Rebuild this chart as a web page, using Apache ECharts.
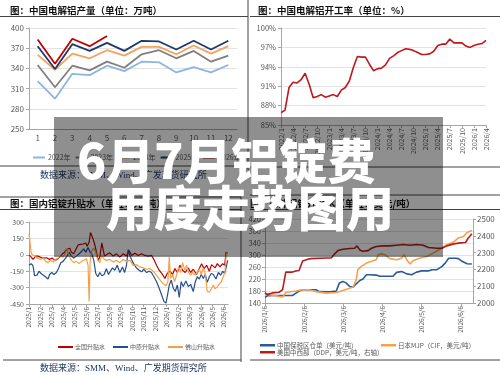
<!DOCTYPE html>
<html>
<head>
<meta charset="utf-8">
<script src="https://cdn.jsdelivr.net/npm/echarts@6/dist/echarts.min.js"></script>
<style>
  html, body { margin: 0; padding: 0; background: #fff; }
  #main { width: 500px; height: 375px; }
</style>
</head>
<body>
<div id="main"></div>
<script>
// ---- chart 1: 中国电解铝产量 (万吨) ----
var monthNums = ['1', '2', '3', '4', '5', '6', '7', '8', '9', '10', '11', '12'];
var out2022 = [321, 295, 332, 330, 344, 336, 350, 349, 334, 342, 334, 345];
var out2023 = [345, 312, 344, 337, 350, 341, 361, 367, 355, 366, 350, 359];
var out2024 = [360, 338, 362, 355, 367, 359, 372, 372, 361, 374, 362, 373];
var out2025 = [373, 339, 376, 366, 378, 366, 381, 380, 368, 381, 368, 381];
var out2026 = [383, 347, 384, 373, 388];

// ---- chart 2: 中国电解铝开工率 (%) ----
var rateMonths = [
  '2022/1', '2022/2', '2022/3', '2022/4', '2022/5', '2022/6', '2022/7', '2022/8', '2022/9', '2022/10', '2022/11', '2022/12',
  '2023/1', '2023/2', '2023/3', '2023/4', '2023/5', '2023/6', '2023/7', '2023/8', '2023/9', '2023/10', '2023/11', '2023/12',
  '2024/1', '2024/2', '2024/3', '2024/4', '2024/5', '2024/6', '2024/7', '2024/8', '2024/9', '2024/10', '2024/11', '2024/12',
  '2025/1', '2025/2', '2025/3', '2025/4', '2025/5', '2025/6', '2025/7', '2025/8', '2025/9', '2025/10', '2025/11', '2025/12',
  '2026/1', '2026/2', '2026/3', '2026/4'
];
var rateValues = [
  86.9, 87.3, 90.8, 91.6, 91.5, 92.0, 93.0, 91.3, 89.2, 89.4, 89.7, 89.3,
  89.5, 89.7, 89.4, 90.4, 90.8, 91.8, 93.9, 95.6, 95.5, 95.5, 94.4, 93.4,
  93.7, 93.8, 94.3, 95.3, 95.7, 96.2, 96.5, 96.8, 96.7, 96.5, 96.2, 95.9,
  95.9, 96.0, 96.4, 97.3, 97.5, 97.5, 98.3, 97.7, 97.7, 97.7, 97.2, 97.0,
  97.3, 97.5, 97.6, 98.1
];

// ---- chart 3: 国内铝锭升贴水 (元/吨), x = months since 2025/1 ----
var premLabels = ['2025/1', '2025/2', '2025/3', '2025/4', '2025/5', '2025/6', '2025/7', '2025/8', '2025/9',
  '2025/10', '2025/11', '2025/12', '2026/1', '2026/2', '2026/3', '2026/4', '2026/5', '2026/6'];
var premNational = [
  [0, 0], [0.2, -21], [0.35, -42], [0.58, -12], [0.79, -12], [0.99, -21], [1.22, -30], [1.51, -27], [1.8, -42],
  [2.04, -30], [2.24, -51], [2.45, -42], [2.68, -21], [2.91, 9], [3.11, 24], [3.26, 48], [3.41, 30], [3.55, 60],
  [3.7, 24], [3.9, 9], [4.08, 48], [4.28, 90], [4.48, 96], [4.72, 99], [4.95, 108], [5.07, 78], [5.24, 114],
  [5.36, 204], [5.47, 189], [5.59, 144], [5.74, 90], [5.88, 24], [6.03, -51], [6.17, -21], [6.35, 108], [6.46, 90],
  [6.58, -12], [6.75, -6], [7.04, 18], [7.34, -12], [7.63, 9], [7.92, -21], [8.21, 9], [8.5, -12], [8.73, 39],
  [8.94, -6], [9.23, 15], [9.52, -6], [9.81, 9], [10.1, -6], [10.39, -12], [10.68, -6], [10.89, -42], [11.12, -96],
  [11.35, -141], [11.64, -180], [11.85, -216], [12.05, -171], [12.28, -150], [12.52, -180], [12.72, -126], [12.93, -162],
  [13.16, -96], [13.39, -141], [13.62, -162], [13.89, -120], [14.09, -162], [14.32, -132], [14.61, -180], [14.85, -126],
  [15.05, -81], [15.25, -126], [15.49, -96], [15.72, -150], [15.92, -90], [16.22, -120], [16.42, -81], [16.65, -111],
  [16.88, -81], [17.06, -96], [17.18, 24], [17.29, 9]
];
var premZhongyuan = [
  [0, -96], [0.2, -81], [0.35, -102], [0.49, -192], [0.7, -186], [0.87, -150], [1.05, -171], [1.22, -186], [1.43, -201],
  [1.66, -222], [1.8, -180], [1.98, -162], [2.18, -180], [2.39, -162], [2.59, -120], [2.77, -72], [2.97, -60], [3.14, -42],
  [3.32, -12], [3.49, 24], [3.7, -12], [3.9, -30], [4.13, -12], [4.37, 9], [4.57, 30], [4.77, 54], [4.95, 24], [5.15, 66],
  [5.3, 30], [5.47, 9], [5.65, -51], [5.82, -171], [6.0, -201], [6.17, -162], [6.35, -192], [6.55, -180], [6.75, -126],
  [6.93, -180], [7.1, -150], [7.28, -120], [7.48, -141], [7.69, -96], [7.92, -162], [8.15, -111], [8.33, -162], [8.5, -96],
  [8.65, 48], [8.79, -6], [8.97, -51], [9.17, -90], [9.37, -120], [9.61, -141], [9.81, -156], [10.01, -132], [10.25, -162],
  [10.48, -150], [10.68, -162], [10.89, -201], [11.12, -246], [11.35, -306], [11.56, -366], [11.76, -426], [11.94, -441],
  [12.08, -366], [12.23, -276], [12.4, -231], [12.58, -306], [12.75, -336], [12.93, -276], [13.1, -390], [13.27, -246],
  [13.45, -291], [13.68, -240], [13.89, -291], [14.09, -270], [14.32, -336], [14.5, -246], [14.67, -201], [14.85, -222],
  [15.02, -180], [15.2, -216], [15.37, -180], [15.54, -252], [15.72, -201], [15.89, -171], [16.07, -180], [16.3, -222],
  [16.51, -162], [16.71, -186], [16.88, -150], [17.06, -171], [17.23, -96], [17.32, -51]
];
var premFoshan = [
  [0, 189], [0.06, 144], [0.2, 9], [0.35, -6], [0.58, -21], [0.79, -30], [0.99, -42], [1.22, -30], [1.46, -60],
  [1.66, -72], [1.86, -51], [2.1, -66], [2.33, -42], [2.53, -30], [2.74, -12], [2.97, -21], [3.14, 9], [3.32, 54],
  [3.49, -6], [3.7, -51], [3.9, -72], [4.13, -60], [4.37, -81], [4.57, -60], [4.77, -51], [5.01, -36], [5.15, -96],
  [5.24, -426], [5.33, -66], [5.47, 39], [5.65, 60], [5.82, 24], [6.0, -51], [6.17, -72], [6.35, 0], [6.52, -36],
  [6.75, -51], [7.04, -42], [7.34, -66], [7.63, -51], [7.92, -72], [8.21, -42], [8.5, -60], [8.79, -51], [9.08, -96],
  [9.37, -90], [9.66, -111], [9.96, -120], [10.25, -132], [10.54, -126], [10.83, -150], [11.06, -180], [11.29, -210],
  [11.53, -246], [11.76, -270], [11.94, -282], [12.11, -246], [12.23, -21], [12.34, -216], [12.52, -180], [12.69, -246],
  [12.87, -186], [13.04, -111], [13.22, -162], [13.39, -72], [13.57, -141], [13.74, -96], [13.91, -162], [14.09, -186],
  [14.26, -162], [14.47, -186], [14.67, -162], [14.85, -126], [15.02, -180], [15.2, -120], [15.37, -180], [15.54, -336],
  [15.72, -342], [15.89, -312], [16.07, -276], [16.24, -312], [16.42, -291], [16.59, -306], [16.77, -246], [16.94, -261],
  [17.09, -156], [17.2, 9], [17.32, 24]
];

// ---- chart 4: 海外铝锭升贴水, x = months since 2026/1/6 ----
var intlLabels = ['2026/1/6', '2026/2/6', '2026/3/6', '2026/4/6', '2026/5/6', '2026/6/6'];
var bondedChina = [
  [0, 159], [0.06, 164], [0.27, 165], [0.53, 165], [0.7, 165], [0.79, 173], [0.87, 180], [0.96, 184], [1.3, 184],
  [1.39, 178], [1.65, 177], [1.82, 180], [1.9, 207], [1.99, 212], [2.07, 207], [2.16, 195], [2.25, 193], [2.33, 204],
  [2.42, 215], [2.5, 220], [2.59, 234], [2.67, 234], [2.84, 233], [2.93, 229], [3.27, 229], [3.36, 242], [3.49, 245],
  [3.62, 237], [3.74, 234], [3.87, 243], [4.0, 247], [4.17, 247], [4.26, 251], [4.39, 251], [4.52, 262], [4.6, 273],
  [4.69, 289], [4.86, 289], [4.94, 288], [5.03, 279], [5.16, 271], [5.28, 270]
];
var japanMJP = [
  [0, 173], [0.1, 168], [0.36, 162], [0.45, 160], [0.53, 175], [0.79, 180], [0.96, 184], [1.13, 184], [1.3, 178],
  [1.56, 173], [1.82, 175], [1.99, 182], [2.16, 189], [2.25, 193], [2.33, 218], [2.37, 251], [2.46, 262], [2.59, 273],
  [2.76, 281], [2.84, 284], [2.89, 301], [2.97, 304], [3.06, 301], [3.19, 288], [3.36, 284], [3.49, 290], [3.55, 301],
  [3.62, 284], [3.7, 270], [3.79, 282], [3.96, 290], [4.13, 295], [4.3, 307], [4.47, 320], [4.64, 334], [4.82, 344],
  [4.94, 357], [5.07, 362], [5.16, 375], [5.28, 382]
];
var usMidwest = [
  [0, 2060], [0.06, 2050], [0.19, 2060], [0.36, 2064], [0.45, 2080], [0.53, 2184], [0.7, 2184], [0.79, 2190],
  [0.87, 2194], [0.96, 2250], [1.09, 2260], [1.17, 2264], [1.56, 2268], [1.69, 2268], [1.77, 2290], [1.86, 2312],
  [1.99, 2320], [2.16, 2324], [2.29, 2326], [2.35, 2340], [2.42, 2316], [2.5, 2308], [2.63, 2312], [2.72, 2326],
  [2.84, 2336], [3.02, 2340], [3.19, 2340], [3.36, 2344], [3.53, 2348], [3.7, 2344], [3.87, 2348], [4.04, 2344],
  [4.17, 2330], [4.39, 2326], [4.52, 2326], [4.64, 2340], [4.82, 2352], [4.99, 2358], [5.12, 2360], [5.18, 2384],
  [5.24, 2400], [5.28, 2412]
];

var chart = echarts.init(document.getElementById('main'));

var axisGray = '#a6a6a6';
var labelGray = '#595959';
var splitGray = '#e3e3e3';
var cjk = '"Noto Sans CJK SC", "Noto Sans", sans-serif';

function lineSeries(name, data, color, xi, yi, width) {
  return {
    name: name, type: 'line', data: data, xAxisIndex: xi, yAxisIndex: yi,
    symbol: 'none', smooth: false,
    lineStyle: { color: color, width: width },
    itemStyle: { color: color }
  };
}

function hline(x1, x2, y) {
  return { type: 'line', shape: { x1: x1, y1: y, x2: x2, y2: y }, style: { stroke: '#444', lineWidth: 1 } };
}
function vline(x, y1, y2) {
  return { type: 'line', shape: { x1: x, y1: y1, x2: x, y2: y2 }, style: { stroke: '#444', lineWidth: 1 } };
}
function label(text, x, y, font, color) {
  return { type: 'text', x: x, y: y, style: { text: text, font: font, fill: color, verticalAlign: 'middle' } };
}

var titleFont = 'bold 9.5px ' + cjk;
var srcFont = '9px "Liberation Serif", "Noto Sans CJK SC", serif';
var srcColor = '#1f3864';

var option = {
  animation: false,
  textStyle: { fontFamily: cjk },
  grid: [
    { left: 29, top: 28, width: 208, height: 101 },
    { left: 281, top: 28, width: 205, height: 97 },
    { left: 29, top: 222, width: 199, height: 82 },
    { left: 265, top: 219, width: 208, height: 84 }
  ],
  xAxis: [
    {
      type: 'category', gridIndex: 0, data: monthNums, boundaryGap: true,
      axisLine: { lineStyle: { color: axisGray } },
      axisTick: { lineStyle: { color: axisGray }, length: 3 },
      axisLabel: { color: labelGray, fontSize: 8, margin: 5 }
    },
    {
      type: 'category', gridIndex: 1, data: rateMonths, boundaryGap: false,
      axisLine: { lineStyle: { color: axisGray } },
      axisTick: { interval: 2, lineStyle: { color: axisGray }, length: 3 },
      axisLabel: { interval: 2, rotate: 90, color: labelGray, fontSize: 7, margin: 3 }
    },
    {
      type: 'value', gridIndex: 2, min: 0, max: 17.35, interval: 1,
      splitLine: { show: false },
      axisLine: { onZero: false, lineStyle: { color: axisGray } },
      axisTick: { show: true, lineStyle: { color: axisGray }, length: 3 },
      axisLabel: {
        rotate: 90, color: labelGray, fontSize: 6.5, margin: 3, showMaxLabel: false,
        formatter: function (v) { return Number.isInteger(v) ? (premLabels[v] || '') : ''; }
      }
    },
    {
      type: 'value', gridIndex: 3, min: 0, max: 5.31, interval: 1,
      splitLine: { show: false },
      axisLine: { onZero: false, lineStyle: { color: axisGray } },
      axisTick: { show: true, lineStyle: { color: axisGray }, length: 3 },
      axisLabel: {
        rotate: 90, color: labelGray, fontSize: 6.5, margin: 3, showMaxLabel: false,
        formatter: function (v) { return Number.isInteger(v) ? (intlLabels[v] || '') : ''; }
      }
    }
  ],
  yAxis: [
    {
      type: 'value', gridIndex: 0, min: 250, max: 400, interval: 30,
      axisLine: { show: true, lineStyle: { color: axisGray } },
      axisTick: { show: true, lineStyle: { color: axisGray }, length: 3 },
      splitLine: { lineStyle: { color: splitGray } },
      axisLabel: { color: labelGray, fontSize: 8, margin: 5 }
    },
    {
      type: 'value', gridIndex: 1, min: 85, max: 100, interval: 3,
      axisLine: { show: true, lineStyle: { color: axisGray } },
      axisTick: { show: true, lineStyle: { color: axisGray }, length: 3 },
      splitLine: { lineStyle: { color: splitGray } },
      axisLabel: { color: labelGray, fontSize: 7.5, margin: 5, formatter: '{value}%' }
    },
    {
      type: 'value', gridIndex: 2, min: -450, max: 300, interval: 150,
      axisLine: { show: true, lineStyle: { color: axisGray } },
      axisTick: { show: true, lineStyle: { color: axisGray }, length: 3 },
      splitLine: { lineStyle: { color: splitGray } },
      axisLabel: { color: labelGray, fontSize: 7, margin: 5 }
    },
    {
      type: 'value', gridIndex: 3, min: 140, max: 420, interval: 40,
      axisLine: { show: true, lineStyle: { color: axisGray } },
      axisTick: { show: true, lineStyle: { color: axisGray }, length: 3 },
      splitLine: { lineStyle: { color: splitGray } },
      axisLabel: { color: labelGray, fontSize: 7.5, margin: 4 }
    },
    {
      type: 'value', gridIndex: 3, position: 'right', min: 2000, max: 2500, interval: 100,
      axisLine: { show: true, lineStyle: { color: axisGray } },
      axisTick: { show: true, lineStyle: { color: axisGray }, length: 3 },
      splitLine: { show: false },
      axisLabel: { color: labelGray, fontSize: 8, margin: 4, formatter: function (v) { return String(v); } }
    }
  ],
  legend: [
    {
      data: ['2022年', '2023年', '2024年', '2025年', '2026年'],
      left: 28, top: 149, icon: 'rect', itemWidth: 12, itemHeight: 2, itemGap: 5,
      textStyle: { fontSize: 7, color: labelGray, padding: [0, 0, 0, -2] }
    },
    {
      data: ['全国升贴水', '中原升贴水', '佛山升贴水'],
      left: 53, top: 339, icon: 'rect', itemWidth: 15, itemHeight: 2, itemGap: 8,
      textStyle: { fontSize: 6, color: labelGray, padding: [0, 0, 0, -3] }
    },
    {
      data: ['中国保税区仓单（美元/吨）'],
      left: 255, top: 337, icon: 'rect', itemWidth: 15, itemHeight: 2.5,
      textStyle: { fontSize: 6.5, color: labelGray, padding: [0, 0, 0, -3] }
    },
    {
      data: ['日本MJP（CIF，美元/吨）'],
      left: 376, top: 337, icon: 'rect', itemWidth: 15, itemHeight: 2.5,
      textStyle: { fontSize: 6.5, color: labelGray, padding: [0, 0, 0, -3] }
    },
    {
      data: ['美国中西部（DDP，美元/吨，右轴）'],
      left: 255, top: 344, icon: 'rect', itemWidth: 15, itemHeight: 2.5,
      textStyle: { fontSize: 6.5, color: labelGray, padding: [0, 0, 0, -3] }
    }
  ],
  series: [
    lineSeries('2022年', out2022, '#8eb4e3', 0, 0, 1.8),
    lineSeries('2023年', out2023, '#7f7f7f', 0, 0, 1.8),
    lineSeries('2024年', out2024, '#f5a35c', 0, 0, 1.8),
    lineSeries('2025年', out2025, '#1f3a68', 0, 0, 1.8),
    lineSeries('2026年', out2026, '#c00000', 0, 0, 1.8),
    lineSeries('开工率', rateValues, '#c0171d', 1, 1, 1.6),
    lineSeries('全国升贴水', premNational, '#c00000', 2, 2, 1.2),
    lineSeries('中原升贴水', premZhongyuan, '#254f8e', 2, 2, 1.2),
    lineSeries('佛山升贴水', premFoshan, '#f4a04a', 2, 2, 1.2),
    lineSeries('中国保税区仓单（美元/吨）', bondedChina, '#2a5a9a', 3, 3, 1.6),
    lineSeries('日本MJP（CIF，美元/吨）', japanMJP, '#f4a14e', 3, 3, 1.6),
    lineSeries('美国中西部（DDP，美元/吨，右轴）', usMidwest, '#b81d1d', 3, 4, 1.6)
  ],
  graphic: {
    elements: [
      // panel frames
      hline(0, 248, 16.5), hline(0, 248, 166), vline(248, 0, 170),
      hline(250, 500, 16.5), hline(250, 500, 167),
      hline(0, 241, 197), hline(0, 241, 209.5), hline(3, 241, 360), vline(241, 197, 362),
      hline(250, 500, 195), hline(250, 500, 209.5), hline(250, 500, 360),
      // titles and sources
      label('图：中国电解铝产量（单位：万吨）', 10, 10, titleFont, '#111'),
      label('图：中国电解铝开工率（单位：%）', 258, 10, titleFont, '#111'),
      label('图：国内铝锭升贴水（单位：元/吨）', 10, 203, titleFont, '#111'),
      label('图：海外铝锭升贴水（单位：美元/吨）', 250, 203, titleFont, '#111'),
      label('数据来源：SMM、Wind、广发期货研究所', 40, 176, srcFont, srcColor),
      label('数据来源：SMM、Wind、广发期货研究所', 40, 369, srcFont, srcColor),
      // overlay banner
      {
        type: 'rect', z: 100, shape: { x: 54, y: 117, width: 389, height: 140 },
        style: { fill: 'rgba(0,0,0,0.44)' }
      },
      {
        type: 'text', z: 101, x: 77, y: 161,
        style: { text: '6月7月铝锭费', font: '900 48px "Noto Sans CJK SC"', fill: '#fff', verticalAlign: 'middle' }
      },
      {
        type: 'text', z: 101, x: 106, y: 208,
        style: { text: '用度走势图用', font: '900 48px "Noto Sans CJK SC"', fill: '#fff', verticalAlign: 'middle' }
      }
    ]
  }
};

chart.setOption(option);
</script>
</body>
</html>
